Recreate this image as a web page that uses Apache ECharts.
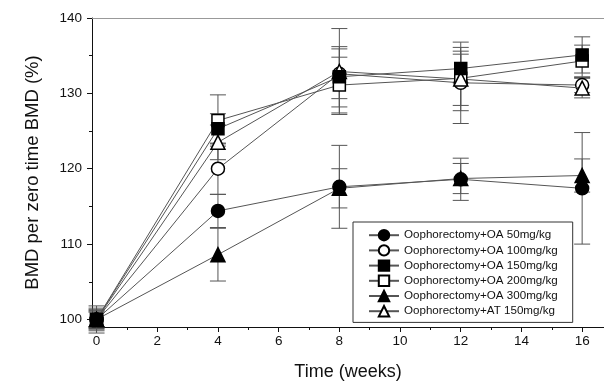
<!DOCTYPE html>
<html>
<head>
<meta charset="utf-8">
<script src="https://cdn.jsdelivr.net/npm/echarts@6/dist/echarts.min.js"></script>
<style>
  html, body { margin: 0; padding: 0; background: #fff; }
  #chart { width: 604px; height: 386px; }
</style>
</head>
<body>
<div id="chart"></div>
<script>
// time points (weeks)
const weeks = [0, 4, 8, 12, 16];
const xTicks = [0, 2, 4, 6, 8, 10, 12, 14, 16];
const xMinor = [1, 3, 5, 7, 9, 11, 13, 15];
const yTicks = [100, 110, 120, 130, 140];
const yMinor = [105, 115, 125, 135];

const names = [
  "Oophorectomy+OA 50mg/kg",
  "Oophorectomy+OA 100mg/kg",
  "Oophorectomy+OA 150mg/kg",
  "Oophorectomy+OA 200mg/kg",
  "Oophorectomy+OA 300mg/kg",
  "Oophorectomy+AT 150mg/kg"
];

// means (%)
const oa50  = [100, 114.4, 117.6, 118.6, 117.4];
const oa100 = [100, 120.0, 132.6, 131.4, 131.1];
const oa150 = [100, 125.3, 132.2, 133.3, 135.1];
const oa200 = [100, 126.4, 131.1, 132.0, 134.3];
const oa300 = [100, 108.6, 117.4, 118.7, 119.1];
const at150 = [100, 123.5, 132.9, 131.9, 130.7];

// error (+/-)
const err50  = [1.2, 2.2, 5.5, 2.8, 7.4];
const err100 = [1.5, 3.4, 3.3, 5.4, 1.0];
const err150 = [1.0, 2.0, 4.0, 1.9, 2.4];
const err200 = [1.8, 3.4, 3.7, 3.6, 2.1];
const err300 = [1.0, 3.5, 2.6, 2.0, 2.2];
const errAt  = [1.3, 2.3, 5.7, 4.2, 1.3];

const means = [oa50, oa100, oa150, oa200, oa300, at150];
const errs = [err50, err100, err150, err200, err300, errAt];
const symbols = ["circle", "circle", "rect", "rect", "triangle", "triangle"];
const filled = [true, false, true, false, true, false];
const sizes = [13, 13, 12, 12, 14, 14];
const zs = [3, 3, 5, 4, 3, 4];

const font = "Liberation Sans, Arial, sans-serif";
let myChart = echarts.init(document.getElementById("chart"));

const lineSeries = names.map((n, k) => ({
  name: n,
  type: "line",
  xAxisIndex: 0,
  yAxisIndex: 0,
  data: weeks.map((w, i) => [w, means[k][i]]),
  symbol: symbols[k],
  symbolSize: sizes[k],
  z: zs[k],
  lineStyle: { color: "#555", width: 1 },
  itemStyle: {
    color: filled[k] ? "#000" : "#fff",
    borderColor: "#000",
    borderWidth: 1.5
  },
  emphasis: { disabled: true },
  animation: false
}));

const errSeries = names.map((n, k) => ({
  name: n + " err",
  type: "custom",
  xAxisIndex: 0,
  yAxisIndex: 0,
  z: 2,
  data: weeks.map((w, i) => [w, means[k][i] - errs[k][i], means[k][i] + errs[k][i]]),
  encode: { x: 0, y: [1, 2] },
  renderItem: (params, api) => {
    const x = api.value(0);
    const lo = api.coord([x, api.value(1)]);
    const hi = api.coord([x, api.value(2)]);
    const hw = 8;
    const st = { stroke: "#555", lineWidth: 1 };
    return {
      type: "group",
      children: [
        { type: "line", shape: { x1: lo[0], y1: lo[1], x2: hi[0], y2: hi[1] }, style: st },
        { type: "line", shape: { x1: lo[0] - hw, y1: lo[1], x2: lo[0] + hw, y2: lo[1] }, style: st },
        { type: "line", shape: { x1: hi[0] - hw, y1: hi[1], x2: hi[0] + hw, y2: hi[1] }, style: st }
      ]
    };
  },
  animation: false
}));

const xMin = -0.15, xMax = 16.72;
const yMin = 99, yMax = 140;

myChart.setOption({
  animation: false,
  grid: { left: 92, right: 0, top: 18, bottom: 55, containLabel: false },
  legend: {
    data: names,
    orient: "vertical",
    left: 353,
    top: 222,
    itemWidth: 30,
    itemHeight: 13,
    itemGap: 2.8,
    padding: [7, 15, 5, 15],
    borderColor: "#333",
    borderWidth: 1,
    textStyle: { fontFamily: font, fontSize: 11.6, color: "#111" },
    selectedMode: false
  },
  xAxis: [
    {
      type: "value", min: xMin, max: xMax, position: "bottom",
      name: "Time (weeks)", nameLocation: "middle", nameGap: 36,
      nameTextStyle: { fontFamily: font, fontSize: 18, color: "#111" },
      axisLine: { onZero: false, lineStyle: { color: "#111", width: 1 } },
      axisTick: { customValues: xTicks, length: 5, lineStyle: { color: "#111" } },
      axisLabel: { customValues: xTicks, margin: 7, fontFamily: font, fontSize: 13.5, color: "#111" },
      splitLine: { show: false }
    },
    {
      type: "value", min: xMin, max: xMax, position: "bottom",
      axisLine: { show: false, onZero: false },
      axisTick: { customValues: xMinor, length: 3, lineStyle: { color: "#111" } },
      axisLabel: { show: false },
      splitLine: { show: false }
    },
    {
      type: "value", min: xMin, max: xMax, position: "top",
      axisLine: { onZero: false, lineStyle: { color: "#999", width: 1 } },
      axisTick: { show: false },
      axisLabel: { show: false },
      splitLine: { show: false }
    }
  ],
  yAxis: [
    {
      type: "value", min: yMin, max: yMax, position: "left",
      name: "BMD per zero time BMD (%)", nameLocation: "middle", nameGap: 50,
      nameTextStyle: { fontFamily: font, fontSize: 18.5, color: "#111" },
      axisLine: { show: true, onZero: false, lineStyle: { color: "#111", width: 1 } },
      axisTick: { customValues: yTicks, length: 5, lineStyle: { color: "#111" } },
      axisLabel: { customValues: yTicks, margin: 10, fontFamily: font, fontSize: 13.5, color: "#111" },
      splitLine: { show: false }
    },
    {
      type: "value", min: yMin, max: yMax, position: "left",
      axisLine: { show: false, onZero: false },
      axisTick: { customValues: yMinor, length: 3, lineStyle: { color: "#111" } },
      axisLabel: { show: false },
      splitLine: { show: false }
    }
  ],
  series: [...errSeries, ...lineSeries]
});
</script>
</body>
</html>
